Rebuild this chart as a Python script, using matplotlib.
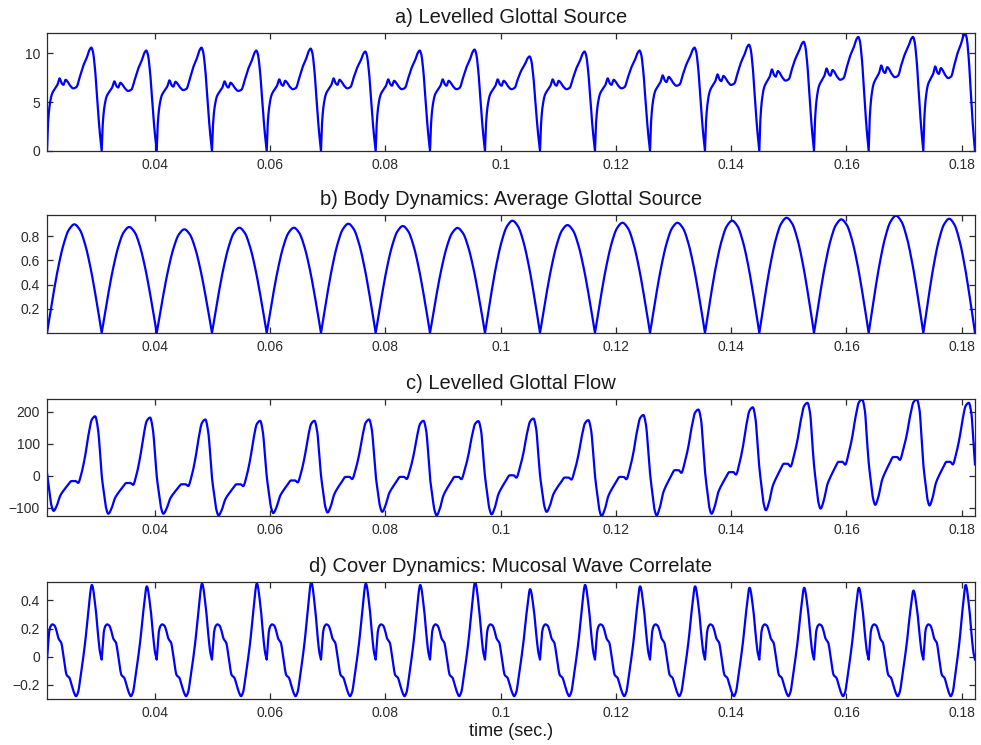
import numpy as np
import matplotlib
matplotlib.use("Agg")
import matplotlib.pyplot as plt
from matplotlib.ticker import FuncFormatter

plt.rcParams["font.family"] = ["Liberation Sans", "DejaVu Sans"]

# ---------------------------------------------------------------------------
# Glottal closure instants (s) delimiting the 17 analysed cycles
closure_times = [0.02126, 0.03075, 0.04030, 0.04989, 0.05939, 0.06881, 0.07830,
                 0.08773, 0.09727, 0.10682, 0.11636, 0.12591, 0.13545, 0.14488,
                 0.15437, 0.16386, 0.17334, 0.18231]

# a) levelled glottal source: one-cycle shape (phase, plateau part, peak ramp)
source_phase = [0.00, 0.02, 0.05, 0.09, 0.14, 0.19, 0.23, 0.27, 0.30, 0.34, 0.37, 0.42,
                0.48, 0.54, 0.60, 0.66, 0.73, 0.78, 0.81, 0.84, 0.88, 0.92, 0.96, 1.00]
source_base = [0.00, 0.40, 0.65, 0.80, 0.87, 0.93, 1.02, 0.95, 0.93, 1.00, 0.98, 0.92,
               0.88, 0.90, 1.00, 1.00, 1.00, 1.00, 1.00, 0.96, 0.78, 0.49, 0.21, 0.00]
source_ramp = [0.00, 0.00, 0.00, 0.00, 0.00, 0.00, 0.00, 0.00, 0.00, 0.00, 0.00, 0.00,
               0.00, 0.00, 0.09, 0.42, 0.70, 0.94, 1.00, 0.96, 0.78, 0.49, 0.21, 0.00]
source_plateau = [7.3, 7.0, 7.1, 7.0, 7.2, 7.3, 7.2, 7.2, 7.2, 7.2, 7.3, 7.6, 7.7,
                  8.2, 8.3, 8.6, 8.5]
source_peak = [10.6, 10.3, 10.6, 10.3, 10.5, 10.2, 10.3, 10.4, 9.7, 10.2, 10.3, 10.6,
               10.9, 11.2, 11.7, 11.7, 12.05]

# b) body dynamics: average glottal source
body_phase = [0.0, 0.1, 0.2, 0.3, 0.4, 0.5, 0.6, 0.7, 0.8, 0.9, 1.0]
body_shape = [0.00, 0.31, 0.59, 0.81, 0.95, 1.00, 0.95, 0.81, 0.59, 0.31, 0.00]
body_peak = [0.897, 0.875, 0.856, 0.869, 0.869, 0.902, 0.883, 0.867, 0.927, 0.891,
             0.910, 0.910, 0.927, 0.951, 0.938, 0.968, 0.943]

# c) levelled glottal flow: shape (phase, trough->shoulder, shoulder->peak)
flow_phase = [0.00, 0.04, 0.08, 0.12, 0.18, 0.24, 0.31, 0.38, 0.45, 0.52, 0.57, 0.63,
              0.70, 0.76, 0.82, 0.88, 0.93, 0.97]
flow_rise = [0.40, 0.22, 0.06, 0.00, 0.18, 0.50, 0.70, 0.86, 1.00, 1.00, 0.94, 1.00,
             1.00, 1.00, 1.00, 1.00, 1.00, 0.62]
flow_pulse = [0.40, 0.22, 0.06, 0.00, 0.00, 0.00, 0.00, 0.00, 0.00, 0.00, 0.00, 0.12,
              0.40, 0.72, 0.95, 1.00, 0.82, 0.62]
flow_trough = [-109, -118, -118, -123, -116, -114, -112, -123, -120, -112, -125, -123,
               -118, -107, -102, -90, -92]
flow_shoulder = [-16, -22, -26, -26, -14, -3, -3, -3, 2, -5, -3, 18, 12, 38, 44, 59, 44]
flow_peak = [186, 182, 176, 172, 172, 176, 172, 171, 179, 174, 190, 207, 214, 228,
             239, 239, 228]

# d) cover dynamics: mucosal wave correlate
mucosal_phase = [0.00, 0.02, 0.04, 0.07, 0.10, 0.14, 0.17, 0.21, 0.26, 0.30, 0.36, 0.41,
                 0.45, 0.50, 0.53, 0.57, 0.61, 0.70, 0.76, 0.82, 0.89, 0.94, 0.97, 1.00]
mucosal_shape = [-0.02, 0.08, 0.18, 0.22, 0.23, 0.22, 0.19, 0.13, 0.10, 0.01, -0.13, -0.15,
                 -0.20, -0.26, -0.28, -0.25, -0.15, 0.11, 0.34, 0.51, 0.34, 0.13, 0.03, -0.02]
mucosal_ramp = [0.0, 0.0, 0.0, 0.0, 0.0, 0.0, 0.0, 0.0, 0.0, 0.0, 0.0, 0.0,
                0.0, 0.0, 0.0, 0.0, 0.0, 0.1, 0.5, 1.0, 0.5, 0.1, 0.0, 0.0]
mucosal_peak = [0.51, 0.50, 0.52, 0.52, 0.53, 0.52, 0.51, 0.53, 0.48, 0.51, 0.50, 0.50,
                0.49, 0.49, 0.49, 0.47, 0.51]

time_ticks = [0.04, 0.06, 0.08, 0.10, 0.12, 0.14, 0.16, 0.18]
titles = ["a) Levelled Glottal Source",
          "b) Body Dynamics: Average Glottal Source",
          "c) Levelled Glottal Flow",
          "d) Cover Dynamics: Mucosal Wave Correlate"]
y_ticks = [[0, 5, 10], [0.2, 0.4, 0.6, 0.8], [-100, 0, 100, 200], [-0.2, 0, 0.2, 0.4]]
y_limits = [(0, 12.1), (0, 0.974), (-125, 240), (-0.30, 0.531)]


# ---------------------------------------------------------------------------
def pchip(x, y, xs):
    """Shape-preserving piecewise cubic Hermite interpolation."""
    x = np.asarray(x, float)
    y = np.asarray(y, float)
    h = np.diff(x)
    delta = np.diff(y) / h
    n = len(x)
    d = np.zeros(n)
    for i in range(1, n - 1):
        if delta[i - 1] * delta[i] > 0:
            w1 = 2 * h[i] + h[i - 1]
            w2 = h[i] + 2 * h[i - 1]
            d[i] = (w1 + w2) / (w1 / delta[i - 1] + w2 / delta[i])
    d[0] = delta[0]
    d[-1] = delta[-1]
    idx = np.clip(np.searchsorted(x, xs) - 1, 0, n - 2)
    hh = h[idx]
    t = (xs - x[idx]) / hh
    h00 = 2 * t**3 - 3 * t**2 + 1
    h10 = t**3 - 2 * t**2 + t
    h01 = -2 * t**3 + 3 * t**2
    h11 = t**3 - t**2
    return h00 * y[idx] + h10 * hh * d[idx] + h01 * y[idx + 1] + h11 * hh * d[idx + 1]


def cycle_by_cycle(phase, cycle_values, samples=160):
    """Evaluate each cycle separately so closure instants stay sharp."""
    ts, ys = [], []
    for k in range(len(closure_times) - 1):
        t0, t1 = closure_times[k], closure_times[k + 1]
        knots_t = t0 + np.asarray(phase) * (t1 - t0)
        tt = np.linspace(t0, t1, samples)
        ts.append(tt)
        ys.append(pchip(knots_t, cycle_values[k], tt))
    return np.concatenate(ts), np.concatenate(ys)


# a) source
src_vals = [np.asarray(source_base) * p + np.asarray(source_ramp) * (h - p)
            for p, h in zip(source_plateau, source_peak)]
t_a, y_a = cycle_by_cycle(source_phase, src_vals)

# b) body
body_vals = [np.asarray(body_shape) * p for p in body_peak]
t_b, y_b = cycle_by_cycle(body_phase, body_vals)

# c) flow (smooth across cycle boundaries)
fr = np.asarray(flow_rise)
fp = np.asarray(flow_pulse)
knot_t, knot_v = [], []
for k in range(len(closure_times) - 1):
    t0, t1 = closure_times[k], closure_times[k + 1]
    lo, sh, hi = flow_trough[k], flow_shoulder[k], flow_peak[k]
    knot_t.extend(t0 + np.asarray(flow_phase) * (t1 - t0))
    knot_v.extend(lo + (sh - lo) * fr + (hi - sh) * fp)
lo, sh, hi = flow_trough[-1], flow_shoulder[-1], flow_peak[-1]
knot_t.append(closure_times[-1])
knot_v.append(lo + (sh - lo) * fr[0] + (hi - sh) * fp[0])
t_c = np.linspace(closure_times[0], closure_times[-1], 4000)
y_c = pchip(knot_t, knot_v, t_c)

# d) mucosal wave
muc_vals = [np.asarray(mucosal_shape) + np.asarray(mucosal_ramp) * (p - 0.51)
            for p in mucosal_peak]
t_d, y_d = cycle_by_cycle(mucosal_phase, muc_vals)

series = [(t_a, y_a), (t_b, y_b), (t_c, y_c), (t_d, y_d)]

# ---------------------------------------------------------------------------
fig = plt.figure(figsize=(9.81, 7.45), dpi=100)
axis_color = "#2b2b2b"
left, width = 47 / 981, 928 / 981
panel_rects = [(33, 151), (215, 333), (399, 516), (582, 699)]

for i, ((top, bottom), (t, y)) in enumerate(zip(panel_rects, series)):
    ax = fig.add_axes([left, 1 - bottom / 745, width, (bottom - top) / 745])
    ax.plot(t, y, color=(0, 0, 1), lw=1.6, solid_joinstyle="round")
    ax.set_xlim(closure_times[0], closure_times[-1])
    ax.set_ylim(*y_limits[i])
    ax.set_xticks(time_ticks)
    ax.set_yticks(y_ticks[i])
    fmt = FuncFormatter(lambda v, _: ("%g" % round(v, 4)).replace("-", "\u2212"))
    ax.xaxis.set_major_formatter(fmt)
    ax.yaxis.set_major_formatter(fmt)
    ax.tick_params(direction="in", length=4.5, width=0.9, top=True, right=True,
                   labelsize=10, colors=axis_color, pad=5)
    for sp in ax.spines.values():
        sp.set_color(axis_color)
        sp.set_linewidth(0.9)
    ax.set_title(titles[i], fontsize=14.5, color="#1a1a1a", pad=7)
    if i == 3:
        ax.set_xlabel("time (sec.)", fontsize=13, color="#1a1a1a", labelpad=2)

fig.savefig("out.png", dpi=100)
